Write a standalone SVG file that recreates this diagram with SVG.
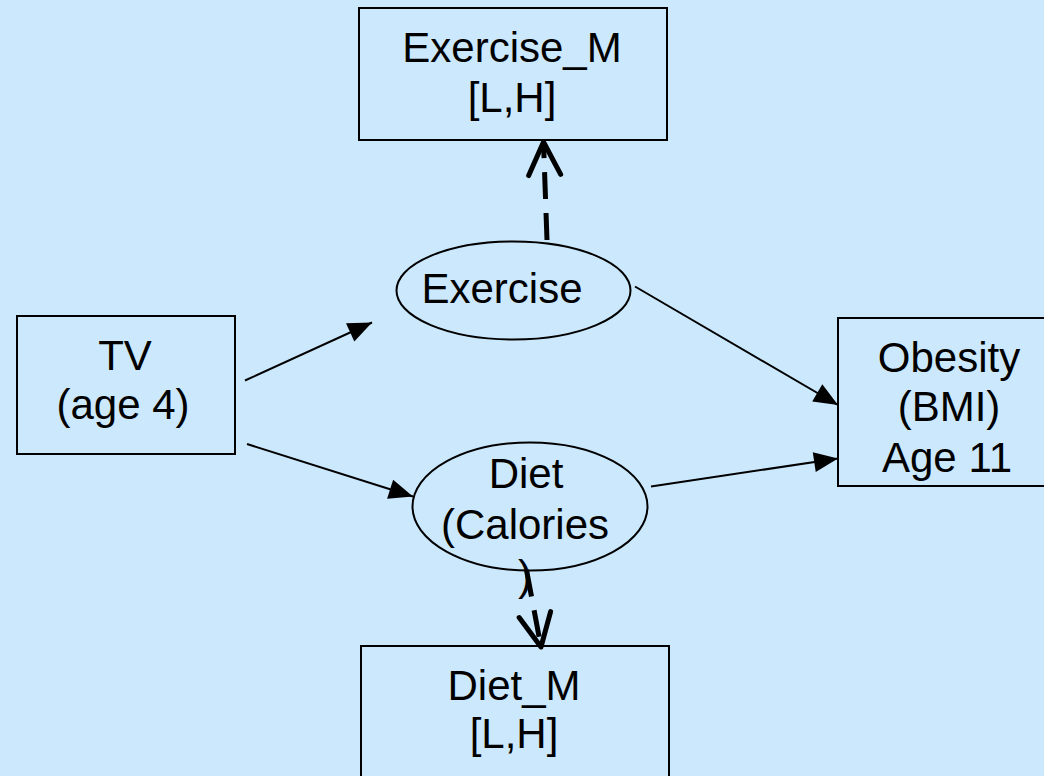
<svg xmlns="http://www.w3.org/2000/svg" width="1044" height="776" viewBox="0 0 1044 776">
  <defs>
    <style>
      .box { fill: none; stroke: #000; stroke-width: 2; }
      .oval { fill: none; stroke: #000; stroke-width: 2; }
      .label { font-family: "Liberation Sans", Arial, sans-serif; font-size: 42px; fill: #000; text-anchor: middle; }
      .link { fill: none; stroke: #000; stroke-width: 2; marker-end: url(#solidHead); }
      .measure { fill: none; stroke: #000; stroke-width: 5; stroke-dasharray: 27 14; marker-end: url(#openHead); }
    </style>
    <!-- filled triangle used on the structural paths -->
    <marker id="solidHead" markerUnits="userSpaceOnUse" markerWidth="28" markerHeight="24" viewBox="-26 -12 28 24" refX="0" refY="0" orient="auto">
      <path d="M -24 -10 L 0 0 L -24 10 Z" fill="#000"/>
    </marker>
    <!-- open chevron used on the dashed measurement paths -->
    <marker id="openHead" markerUnits="userSpaceOnUse" markerWidth="44" markerHeight="44" viewBox="-38 -22 44 44" refX="0" refY="0" orient="auto">
      <path d="M -33 -16 L 0 0 L -33 16" fill="none" stroke="#000" stroke-width="5" stroke-linecap="round" stroke-linejoin="round" stroke-dasharray="none"/>
    </marker>
  </defs>

  <rect x="0" y="0" width="1044" height="776" fill="#cbe8fd"/>

  <g id="connectors">
    <line class="link" x1="245" y1="380.5" x2="372" y2="322.5"/>
    <line class="link" x1="247" y1="444" x2="413" y2="496.5"/>
    <line class="link" x1="635" y1="286.5" x2="838" y2="405"/>
    <line class="link" x1="651" y1="486.5" x2="838" y2="458.5"/>
    <line class="measure" x1="547" y1="240" x2="543.5" y2="142"/>
    <line class="measure" x1="526.5" y1="570" x2="541" y2="647" stroke-dasharray="26 20"/>
  </g>

  <g id="exercise-m">
    <rect class="box" x="359" y="8" width="308" height="132"/>
    <text class="label" x="512" y="61.5">Exercise_M</text>
    <text class="label" x="512" y="112">[L,H]</text>
  </g>

  <g id="exercise">
    <ellipse class="oval" cx="513.5" cy="290.5" rx="117" ry="49"/>
    <text class="label" x="502" y="303">Exercise</text>
  </g>

  <g id="tv">
    <rect class="box" x="17" y="316" width="218" height="138"/>
    <text class="label" x="125" y="370">TV</text>
    <text class="label" x="123" y="419">(age 4)</text>
  </g>

  <g id="diet">
    <ellipse class="oval" cx="530" cy="506.5" rx="117.5" ry="64"/>
    <text class="label" x="526" y="488">Diet</text>
    <text class="label" x="525" y="539">(Calories</text>
    <text class="label" x="525" y="590">)</text>
  </g>

  <g id="obesity">
    <rect class="box" x="838" y="318" width="224" height="168"/>
    <text class="label" x="949" y="372">Obesity</text>
    <text class="label" x="949" y="421">(BMI)</text>
    <text class="label" x="947" y="472">Age 11</text>
  </g>

  <g id="diet-m">
    <rect class="box" x="361" y="646" width="308" height="150"/>
    <text class="label" x="514" y="700">Diet_M</text>
    <text class="label" x="514" y="748">[L,H]</text>
  </g>
</svg>
